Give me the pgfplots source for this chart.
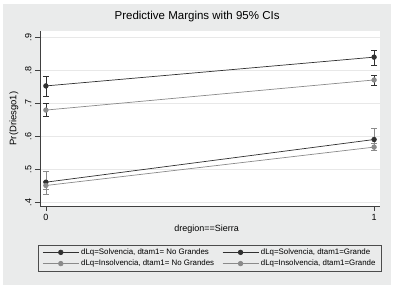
\documentclass[border=0pt]{standalone}
\usepackage{fontspec}
\setmainfont{Liberation Sans}
\usepackage{pgfplots}
\pgfplotsset{compat=1.18}
\definecolor{bg}{RGB}{234,235,235}
\definecolor{dk}{RGB}{48,48,48}
\definecolor{lg}{RGB}{138,138,138}
\definecolor{gridc}{RGB}{232,232,232}
\begin{document}
\begin{tikzpicture}
\fill[white] (0,0) rectangle (396pt,290pt);
\fill[bg] (3pt,5pt) rectangle (391pt,286pt);
\begin{axis}[
  at={(40pt,84pt)}, anchor=south west,
  scale only axis, width=340pt, height=175pt,
  xmin=-0.018, xmax=1.018, ymin=0.39, ymax=0.919,
  axis background/.style={fill=white},
  axis x line*=bottom, axis y line*=left,
  axis line style={black!75, line width=0.6pt},
  xtick={0,1}, xticklabels={0,1},
  ytick={0.4,0.5,0.6,0.7,0.8,0.9}, yticklabels={.4,.5,.6,.7,.8,.9},
  tick align=outside, major tick length=5pt,
  tick style={black!75, line width=0.6pt},
  ymajorgrids, major grid style={gridc, line width=0.8pt},
  ticklabel style={font=\fontsize{9}{10}\selectfont, black},
  yticklabel style={rotate=90, anchor=south},
  title={Predictive Margins with 95\% CIs},
  title style={at={(axis description cs:0.462,1.046)}, anchor=center, font=\fontsize{11.5}{13}\selectfont},
  xlabel={dregion==Sierra},
  xlabel style={at={(axis description cs:0.49,-0.131)}, anchor=center, font=\fontsize{9}{10}\selectfont},
  ylabel={Pr(Driesgo1)},
  ylabel style={at={(axis description cs:-0.0765,0.5)}, anchor=center, rotate=0, font=\fontsize{9.5}{11}\selectfont},
  legend columns=2,
  legend cell align=left,
  legend image code/.code={\draw[mark repeat=2,mark phase=2,#1] plot coordinates {(0pt,0pt) (18pt,0pt) (36pt,0pt)};},
  legend style={at={(axis description cs:0.5,-0.297)}, anchor=center, fill=bg, draw=black!70, line width=0.5pt,
    font=\fontsize{7.9}{9}\selectfont, inner xsep=4pt, inner ysep=2pt,
    /tikz/every even column/.append style={column sep=6pt}},
  every axis plot/.append style={line width=0.7pt, mark=*, mark size=2.3pt},
]
% Solvencia, No Grandes
\addplot[dk, mark options={fill=dk, draw=dk},
  error bars/.cd, y dir=both, y explicit,
  error bar style={dk, line width=0.7pt},
  error mark options={dk, line width=0.7pt, mark size=3pt, rotate=90}]
  coordinates {(0,0.753) += (0,0.030) -= (0,0.032) (1,0.840) += (0,0.020) -= (0,0.026)};
\addlegendentry{dLq=Solvencia, dtam1= No Grandes}
% Solvencia, Grande
\addplot[dk, mark options={fill=dk, draw=dk},
  error bars/.cd, y dir=both, y explicit,
  error bar style={lg, line width=0.7pt},
  error mark options={lg, line width=0.7pt, mark size=3pt, rotate=90}]
  coordinates {(0,0.462) += (0,0.032) -= (0,0.038) (1,0.591) += (0,0.034) -= (0,0.033)};
\addlegendentry{dLq=Solvencia, dtam1=Grande}
% Insolvencia, No Grandes
\addplot[lg, mark options={fill=lg, draw=lg},
  error bars/.cd, y dir=both, y explicit,
  error bar style={dk, line width=0.7pt},
  error mark options={dk, line width=0.7pt, mark size=3pt, rotate=90}]
  coordinates {(0,0.680) += (0,0.020) -= (0,0.018) (1,0.771) += (0,0.015) -= (0,0.015)};
\addlegendentry{dLq=Insolvencia, dtam1= No Grandes}
% Insolvencia, Grande
\addplot[lg, mark options={fill=lg, draw=lg},
  error bars/.cd, y dir=both, y explicit,
  error bar style={lg, line width=0.7pt},
  error mark options={lg, line width=0.7pt, mark size=3pt, rotate=90}]
  coordinates {(0,0.452) += (0,0.014) -= (0,0.012) (1,0.568) += (0,0.010) -= (0,0.010)};
\addlegendentry{dLq=Insolvencia, dtam1=Grande}
\end{axis}
\pgfresetboundingbox
\path[use as bounding box] (0,0) rectangle (396pt,290pt);
\end{tikzpicture}
\end{document}
